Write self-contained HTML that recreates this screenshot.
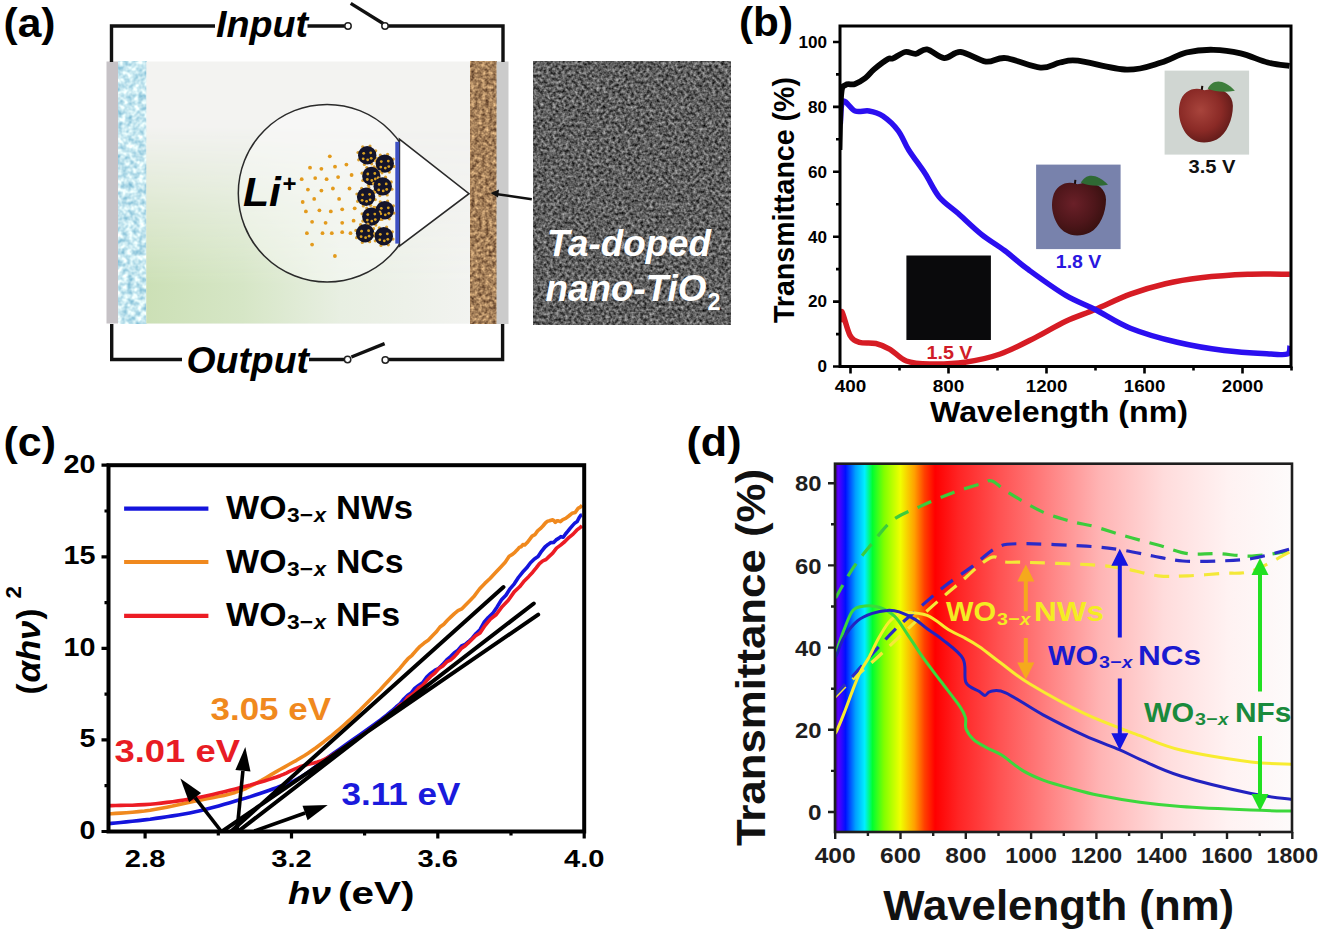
<!DOCTYPE html><html><head><meta charset="utf-8"><style>html,body{margin:0;padding:0;background:#fff;overflow:hidden}svg{display:block}</style></head><body>
<svg width="1328" height="938" viewBox="0 0 1328 938">
<defs>
<filter id="noise" x="0" y="0" width="100%" height="100%">
  <feTurbulence type="fractalNoise" baseFrequency="0.55" numOctaves="2" seed="3" result="n"/>
  <feColorMatrix in="n" type="matrix" values="0 0 0 0 0.42  0 0 0 0 0.42  0 0 0 0 0.42  0 0 0 1.6 -0.5" result="g"/>
  <feComposite in="g" in2="SourceGraphic" operator="in"/>
</filter>
<filter id="temn" x="0" y="0" width="100%" height="100%" color-interpolation-filters="sRGB">
  <feTurbulence type="fractalNoise" baseFrequency="0.32" numOctaves="2" seed="7"/>
  <feColorMatrix type="matrix" values="0.9 0 0 0 -0.08  0.9 0 0 0 -0.08  0.9 0 0 0 -0.08  0 0 0 0 1"/>
</filter>
<filter id="brn" x="0" y="0" width="100%" height="100%" color-interpolation-filters="sRGB">
  <feTurbulence type="fractalNoise" baseFrequency="0.28" numOctaves="2" seed="11"/>
  <feColorMatrix type="matrix" values="0.85 0 0 0 0.22  0.78 0 0 0 0.11  0.6 0 0 0 0.05  0 0 0 0 1"/>
</filter>
<filter id="wat" x="0" y="0" width="100%" height="100%" color-interpolation-filters="sRGB">
  <feTurbulence type="fractalNoise" baseFrequency="0.18" numOctaves="2" seed="5"/>
  <feColorMatrix type="matrix" values="0.75 0 0 0 0.4  0.45 0 0 0 0.68  0.28 0 0 0 0.8  0 0 0 0 1"/>
</filter>
<linearGradient id="cellh" x1="146" y1="0" x2="470" y2="0" gradientUnits="userSpaceOnUse">
  <stop offset="0" stop-color="#cce0b6"/>
  <stop offset="0.3" stop-color="#d6e6c6"/>
  <stop offset="0.6" stop-color="#e8efe2"/>
  <stop offset="1" stop-color="#f2f3f0"/>
</linearGradient>
<linearGradient id="cellv" x1="0" y1="61" x2="0" y2="324" gradientUnits="userSpaceOnUse">
  <stop offset="0" stop-color="#000"/>
  <stop offset="0.25" stop-color="#000"/>
  <stop offset="0.85" stop-color="#fff"/>
  <stop offset="1" stop-color="#fff"/>
</linearGradient>
<mask id="cellm" maskUnits="userSpaceOnUse" x="146" y="61" width="324" height="263"><rect x="146" y="61" width="324" height="263" fill="url(#cellv)"/></mask>
<linearGradient id="spec" x1="835" y1="0" x2="1292" y2="0" gradientUnits="userSpaceOnUse">
  <stop offset="0" stop-color="#3c0090"/>
  <stop offset="0.007" stop-color="#5a00ff"/>
  <stop offset="0.023" stop-color="#0010ff"/>
  <stop offset="0.045" stop-color="#00a0ff"/>
  <stop offset="0.065" stop-color="#00f0ff"/>
  <stop offset="0.082" stop-color="#00ff30"/>
  <stop offset="0.107" stop-color="#80ff00"/>
  <stop offset="0.143" stop-color="#f0ff00"/>
  <stop offset="0.174" stop-color="#ffa000"/>
  <stop offset="0.196" stop-color="#ff4000"/>
  <stop offset="0.219" stop-color="#ff0000"/>
  <stop offset="0.27" stop-color="#ff2424"/>
  <stop offset="0.36" stop-color="#ff5252"/>
  <stop offset="0.58" stop-color="#ffb4b4"/>
  <stop offset="0.72" stop-color="#ffdcdc"/>
  <stop offset="0.86" stop-color="#fff2f2"/>
  <stop offset="1" stop-color="#fdfbfb"/>
</linearGradient>
</defs>
<rect x="0" y="0" width="1328" height="938" fill="#fff"/>
<text x="3.5" y="36.5" font-family="Liberation Sans, sans-serif" font-size="40" font-weight="bold" font-style="normal" fill="#000" text-anchor="start" textLength="52" lengthAdjust="spacingAndGlyphs" >(a)</text>
<rect x="106.5" y="61.5" width="11.7" height="262" fill="#c6c2c6"/>
<rect x="118.2" y="61.5" width="28.1" height="262" filter="url(#wat)"/>
<rect x="146.3" y="61.5" width="323.7" height="262" fill="#f3f3f1"/>
<rect x="146.3" y="61.5" width="323.7" height="262" fill="url(#cellh)" mask="url(#cellm)"/>
<rect x="470" y="61.5" width="26.5" height="262.5" filter="url(#brn)"/>
<rect x="496.5" y="61.5" width="12" height="262.5" fill="#cbcbcb"/>
<path d="M111.5,62 V26 H215 M307.5,26 H345 M388,26 H503 V62" stroke="#111" stroke-width="3.4" fill="none"/>
<path d="M350.7,3.4 L383.5,23.7" stroke="#111" stroke-width="3.4" fill="none"/>
<path d="M111.7,324 V359.5 H182 M309,359.5 H344.5 M388.5,359.5 H502.6 V324" stroke="#111" stroke-width="3.4" fill="none"/>
<path d="M351.4,357 L384.6,343.6" stroke="#111" stroke-width="3.4" fill="none"/>
<circle cx="348" cy="26" r="3.2" fill="#fff" stroke="#222" stroke-width="1.5"/>
<circle cx="385" cy="26" r="3.2" fill="#fff" stroke="#222" stroke-width="1.5"/>
<circle cx="347.6" cy="359.5" r="3.2" fill="#fff" stroke="#222" stroke-width="1.5"/>
<circle cx="385.3" cy="360" r="3.2" fill="#fff" stroke="#222" stroke-width="1.5"/>
<text x="216" y="37.3" font-family="Liberation Sans, sans-serif" font-size="36" font-weight="bold" font-style="italic" fill="#000" text-anchor="start" textLength="92" lengthAdjust="spacingAndGlyphs" >Input</text>
<text x="186.5" y="373.4" font-family="Liberation Sans, sans-serif" font-size="36" font-weight="bold" font-style="italic" fill="#000" text-anchor="start" textLength="122.5" lengthAdjust="spacingAndGlyphs" >Output</text>
<circle cx="327.1" cy="193.2" r="88.8" fill="#fff" fill-opacity="0.35" stroke="#2a2a2a" stroke-width="1.5"/>
<path d="M399.4,139.2 L469,193.7 L399.4,246.2 Z" fill="#fff" stroke="#2a2a2a" stroke-width="1.6"/>
<rect x="395.3" y="141.8" width="4" height="101.8" fill="#3d50c3"/>
<circle cx="329.8" cy="156.3" r="1.9" fill="#e39a1c"/>
<circle cx="310" cy="167.7" r="1.9" fill="#e39a1c"/>
<circle cx="321.4" cy="168.8" r="1.9" fill="#e39a1c"/>
<circle cx="335" cy="166.7" r="1.9" fill="#e39a1c"/>
<circle cx="346.4" cy="164.6" r="1.9" fill="#e39a1c"/>
<circle cx="301.7" cy="179.2" r="1.9" fill="#e39a1c"/>
<circle cx="315.2" cy="178.1" r="1.9" fill="#e39a1c"/>
<circle cx="326.6" cy="179.2" r="1.9" fill="#e39a1c"/>
<circle cx="338.1" cy="177.1" r="1.9" fill="#e39a1c"/>
<circle cx="351.6" cy="175" r="1.9" fill="#e39a1c"/>
<circle cx="307.9" cy="189.6" r="1.9" fill="#e39a1c"/>
<circle cx="321.4" cy="190.6" r="1.9" fill="#e39a1c"/>
<circle cx="332.9" cy="188.5" r="1.9" fill="#e39a1c"/>
<circle cx="349.5" cy="188.5" r="1.9" fill="#e39a1c"/>
<circle cx="302.7" cy="202" r="1.9" fill="#e39a1c"/>
<circle cx="314.2" cy="198.9" r="1.9" fill="#e39a1c"/>
<circle cx="339.1" cy="198.9" r="1.9" fill="#e39a1c"/>
<circle cx="354.7" cy="208.3" r="1.9" fill="#e39a1c"/>
<circle cx="305.9" cy="211.4" r="1.9" fill="#e39a1c"/>
<circle cx="319.4" cy="210.3" r="1.9" fill="#e39a1c"/>
<circle cx="330.8" cy="211.4" r="1.9" fill="#e39a1c"/>
<circle cx="342.2" cy="209.3" r="1.9" fill="#e39a1c"/>
<circle cx="312.1" cy="221.8" r="1.9" fill="#e39a1c"/>
<circle cx="325.6" cy="222.8" r="1.9" fill="#e39a1c"/>
<circle cx="342.2" cy="222.8" r="1.9" fill="#e39a1c"/>
<circle cx="353.6" cy="220.7" r="1.9" fill="#e39a1c"/>
<circle cx="306.9" cy="233.2" r="1.9" fill="#e39a1c"/>
<circle cx="322.5" cy="233.2" r="1.9" fill="#e39a1c"/>
<circle cx="331.8" cy="233.2" r="1.9" fill="#e39a1c"/>
<circle cx="342.2" cy="232.2" r="1.9" fill="#e39a1c"/>
<circle cx="350.5" cy="233.2" r="1.9" fill="#e39a1c"/>
<circle cx="312.1" cy="244.6" r="1.9" fill="#e39a1c"/>
<circle cx="334.9" cy="256" r="1.9" fill="#e39a1c"/>
<circle cx="376.4" cy="158.1" r="1.6" fill="#d9a030"/><circle cx="371.7" cy="163.8" r="1.6" fill="#d9a030"/><circle cx="364.4" cy="164.5" r="1.6" fill="#d9a030"/><circle cx="358.7" cy="159.8" r="1.6" fill="#d9a030"/><circle cx="358.0" cy="152.5" r="1.6" fill="#d9a030"/><circle cx="362.7" cy="146.8" r="1.6" fill="#d9a030"/><circle cx="370.0" cy="146.1" r="1.6" fill="#d9a030"/><circle cx="375.7" cy="150.8" r="1.6" fill="#d9a030"/>
<circle cx="367.2" cy="155.3" r="9.2" fill="#14142a"/>
<circle cx="363.7" cy="153.3" r="1.4" fill="#d8a020"/>
<circle cx="370.7" cy="152.8" r="1.4" fill="#d8a020"/>
<circle cx="367.7" cy="159.8" r="1.4" fill="#d8a020"/>
<circle cx="363.2" cy="158.8" r="1.4" fill="#d8a020"/>
<circle cx="371.2" cy="158.3" r="1.4" fill="#d8a020"/>
<circle cx="394.0" cy="166.4" r="1.6" fill="#d9a030"/><circle cx="389.3" cy="172.1" r="1.6" fill="#d9a030"/><circle cx="382.0" cy="172.8" r="1.6" fill="#d9a030"/><circle cx="376.3" cy="168.1" r="1.6" fill="#d9a030"/><circle cx="375.6" cy="160.8" r="1.6" fill="#d9a030"/><circle cx="380.3" cy="155.1" r="1.6" fill="#d9a030"/><circle cx="387.6" cy="154.4" r="1.6" fill="#d9a030"/><circle cx="393.3" cy="159.1" r="1.6" fill="#d9a030"/>
<circle cx="384.8" cy="163.6" r="9.2" fill="#14142a"/>
<circle cx="381.3" cy="161.6" r="1.4" fill="#d8a020"/>
<circle cx="388.3" cy="161.1" r="1.4" fill="#d8a020"/>
<circle cx="385.3" cy="168.1" r="1.4" fill="#d8a020"/>
<circle cx="380.8" cy="167.1" r="1.4" fill="#d8a020"/>
<circle cx="388.8" cy="166.6" r="1.4" fill="#d8a020"/>
<circle cx="380.5" cy="178.8" r="1.6" fill="#d9a030"/><circle cx="375.8" cy="184.5" r="1.6" fill="#d9a030"/><circle cx="368.5" cy="185.2" r="1.6" fill="#d9a030"/><circle cx="362.8" cy="180.5" r="1.6" fill="#d9a030"/><circle cx="362.1" cy="173.2" r="1.6" fill="#d9a030"/><circle cx="366.8" cy="167.5" r="1.6" fill="#d9a030"/><circle cx="374.1" cy="166.8" r="1.6" fill="#d9a030"/><circle cx="379.8" cy="171.5" r="1.6" fill="#d9a030"/>
<circle cx="371.3" cy="176" r="9.2" fill="#14142a"/>
<circle cx="367.8" cy="174" r="1.4" fill="#d8a020"/>
<circle cx="374.8" cy="173.5" r="1.4" fill="#d8a020"/>
<circle cx="371.8" cy="180.5" r="1.4" fill="#d8a020"/>
<circle cx="367.3" cy="179.5" r="1.4" fill="#d8a020"/>
<circle cx="375.3" cy="179" r="1.4" fill="#d8a020"/>
<circle cx="391.9" cy="189.2" r="1.6" fill="#d9a030"/><circle cx="387.2" cy="194.9" r="1.6" fill="#d9a030"/><circle cx="379.9" cy="195.6" r="1.6" fill="#d9a030"/><circle cx="374.2" cy="190.9" r="1.6" fill="#d9a030"/><circle cx="373.5" cy="183.6" r="1.6" fill="#d9a030"/><circle cx="378.2" cy="177.9" r="1.6" fill="#d9a030"/><circle cx="385.5" cy="177.2" r="1.6" fill="#d9a030"/><circle cx="391.2" cy="181.9" r="1.6" fill="#d9a030"/>
<circle cx="382.7" cy="186.4" r="9.2" fill="#14142a"/>
<circle cx="379.2" cy="184.4" r="1.4" fill="#d8a020"/>
<circle cx="386.2" cy="183.9" r="1.4" fill="#d8a020"/>
<circle cx="383.2" cy="190.9" r="1.4" fill="#d8a020"/>
<circle cx="378.7" cy="189.9" r="1.4" fill="#d8a020"/>
<circle cx="386.7" cy="189.4" r="1.4" fill="#d8a020"/>
<circle cx="375.3" cy="199.6" r="1.6" fill="#d9a030"/><circle cx="370.6" cy="205.3" r="1.6" fill="#d9a030"/><circle cx="363.3" cy="206.0" r="1.6" fill="#d9a030"/><circle cx="357.6" cy="201.3" r="1.6" fill="#d9a030"/><circle cx="356.9" cy="194.0" r="1.6" fill="#d9a030"/><circle cx="361.6" cy="188.3" r="1.6" fill="#d9a030"/><circle cx="368.9" cy="187.6" r="1.6" fill="#d9a030"/><circle cx="374.6" cy="192.3" r="1.6" fill="#d9a030"/>
<circle cx="366.1" cy="196.8" r="9.2" fill="#14142a"/>
<circle cx="362.6" cy="194.8" r="1.4" fill="#d8a020"/>
<circle cx="369.6" cy="194.3" r="1.4" fill="#d8a020"/>
<circle cx="366.6" cy="201.3" r="1.4" fill="#d8a020"/>
<circle cx="362.1" cy="200.3" r="1.4" fill="#d8a020"/>
<circle cx="370.1" cy="199.8" r="1.4" fill="#d8a020"/>
<circle cx="394.0" cy="213.1" r="1.6" fill="#d9a030"/><circle cx="389.3" cy="218.8" r="1.6" fill="#d9a030"/><circle cx="382.0" cy="219.5" r="1.6" fill="#d9a030"/><circle cx="376.3" cy="214.8" r="1.6" fill="#d9a030"/><circle cx="375.6" cy="207.5" r="1.6" fill="#d9a030"/><circle cx="380.3" cy="201.8" r="1.6" fill="#d9a030"/><circle cx="387.6" cy="201.1" r="1.6" fill="#d9a030"/><circle cx="393.3" cy="205.8" r="1.6" fill="#d9a030"/>
<circle cx="384.8" cy="210.3" r="9.2" fill="#14142a"/>
<circle cx="381.3" cy="208.3" r="1.4" fill="#d8a020"/>
<circle cx="388.3" cy="207.8" r="1.4" fill="#d8a020"/>
<circle cx="385.3" cy="214.8" r="1.4" fill="#d8a020"/>
<circle cx="380.8" cy="213.8" r="1.4" fill="#d8a020"/>
<circle cx="388.8" cy="213.3" r="1.4" fill="#d8a020"/>
<circle cx="380.5" cy="219.4" r="1.6" fill="#d9a030"/><circle cx="375.8" cy="225.1" r="1.6" fill="#d9a030"/><circle cx="368.5" cy="225.8" r="1.6" fill="#d9a030"/><circle cx="362.8" cy="221.1" r="1.6" fill="#d9a030"/><circle cx="362.1" cy="213.8" r="1.6" fill="#d9a030"/><circle cx="366.8" cy="208.1" r="1.6" fill="#d9a030"/><circle cx="374.1" cy="207.4" r="1.6" fill="#d9a030"/><circle cx="379.8" cy="212.1" r="1.6" fill="#d9a030"/>
<circle cx="371.3" cy="216.6" r="9.2" fill="#14142a"/>
<circle cx="367.8" cy="214.6" r="1.4" fill="#d8a020"/>
<circle cx="374.8" cy="214.1" r="1.4" fill="#d8a020"/>
<circle cx="371.8" cy="221.1" r="1.4" fill="#d8a020"/>
<circle cx="367.3" cy="220.1" r="1.4" fill="#d8a020"/>
<circle cx="375.3" cy="219.6" r="1.4" fill="#d8a020"/>
<circle cx="374.3" cy="236.0" r="1.6" fill="#d9a030"/><circle cx="369.6" cy="241.7" r="1.6" fill="#d9a030"/><circle cx="362.3" cy="242.4" r="1.6" fill="#d9a030"/><circle cx="356.6" cy="237.7" r="1.6" fill="#d9a030"/><circle cx="355.9" cy="230.4" r="1.6" fill="#d9a030"/><circle cx="360.6" cy="224.7" r="1.6" fill="#d9a030"/><circle cx="367.9" cy="224.0" r="1.6" fill="#d9a030"/><circle cx="373.6" cy="228.7" r="1.6" fill="#d9a030"/>
<circle cx="365.1" cy="233.2" r="9.2" fill="#14142a"/>
<circle cx="361.6" cy="231.2" r="1.4" fill="#d8a020"/>
<circle cx="368.6" cy="230.7" r="1.4" fill="#d8a020"/>
<circle cx="365.6" cy="237.7" r="1.4" fill="#d8a020"/>
<circle cx="361.1" cy="236.7" r="1.4" fill="#d8a020"/>
<circle cx="369.1" cy="236.2" r="1.4" fill="#d8a020"/>
<circle cx="393.0" cy="239.1" r="1.6" fill="#d9a030"/><circle cx="388.3" cy="244.8" r="1.6" fill="#d9a030"/><circle cx="381.0" cy="245.5" r="1.6" fill="#d9a030"/><circle cx="375.3" cy="240.8" r="1.6" fill="#d9a030"/><circle cx="374.6" cy="233.5" r="1.6" fill="#d9a030"/><circle cx="379.3" cy="227.8" r="1.6" fill="#d9a030"/><circle cx="386.6" cy="227.1" r="1.6" fill="#d9a030"/><circle cx="392.3" cy="231.8" r="1.6" fill="#d9a030"/>
<circle cx="383.8" cy="236.3" r="9.2" fill="#14142a"/>
<circle cx="380.3" cy="234.3" r="1.4" fill="#d8a020"/>
<circle cx="387.3" cy="233.8" r="1.4" fill="#d8a020"/>
<circle cx="384.3" cy="240.8" r="1.4" fill="#d8a020"/>
<circle cx="379.8" cy="239.8" r="1.4" fill="#d8a020"/>
<circle cx="387.8" cy="239.3" r="1.4" fill="#d8a020"/>
<text x="243" y="206.2" font-family="Liberation Sans, sans-serif" font-size="40" font-weight="bold" font-style="italic" fill="#000" text-anchor="start" textLength="38" lengthAdjust="spacingAndGlyphs" >Li</text>
<text x="282.5" y="192" font-family="Liberation Sans, sans-serif" font-size="24" font-weight="bold" font-style="normal" fill="#000" text-anchor="start" textLength="14" lengthAdjust="spacingAndGlyphs" >+</text>
<path d="M494,193.7 L531.8,199.2" stroke="#111" stroke-width="2.6"/>
<path d="M490.5,193 L499,189.5 L498,197.5 Z" fill="#111"/>
<rect x="533" y="61.7" width="197.3" height="262.9" filter="url(#temn)"/>
<text x="547" y="256.1" font-family="Liberation Sans, sans-serif" font-size="36" font-weight="bold" font-style="italic" fill="#fff" text-anchor="start" textLength="164" lengthAdjust="spacingAndGlyphs" >Ta-doped</text>
<text x="545.5" y="301.3" font-family="Liberation Sans, sans-serif" font-size="36" font-weight="bold" font-style="italic" fill="#fff" text-anchor="start" textLength="161" lengthAdjust="spacingAndGlyphs" >nano-TiO</text>
<text x="707.5" y="310.4" font-family="Liberation Sans, sans-serif" font-size="24" font-weight="bold" font-style="normal" fill="#fff" text-anchor="start" textLength="13" lengthAdjust="spacingAndGlyphs" >2</text>
<text x="739" y="36" font-family="Liberation Sans, sans-serif" font-size="40" font-weight="bold" font-style="normal" fill="#000" text-anchor="start" textLength="54" lengthAdjust="spacingAndGlyphs" >(b)</text>
<clipPath id="clipb"><rect x="840" y="26" width="451" height="340.5"/></clipPath>
<g clip-path="url(#clipb)">
<path d="M840.2,322.0 C840.5,320.3 840.4,309.6 842.0,311.8 C843.6,314.0 847.1,330.2 850.0,335.3 C852.9,340.4 855.2,340.9 859.5,342.3 C863.8,343.7 870.8,342.3 875.9,343.5 C881.0,344.7 884.9,346.4 890.0,349.3 C895.1,352.2 899.8,358.6 906.4,361.0 C913.0,363.4 920.0,363.7 929.8,363.9 C939.6,364.1 953.3,363.8 965.0,362.2 C976.7,360.6 988.5,358.1 1000.2,354.0 C1011.9,349.9 1024.4,343.1 1035.3,337.6 C1046.2,332.1 1055.8,325.9 1065.8,321.2 C1075.8,316.5 1084.4,314.0 1095.2,309.5 C1106.0,305.0 1118.7,298.5 1130.4,294.2 C1142.1,289.9 1153.8,286.4 1165.5,283.7 C1177.2,281.0 1187.0,279.4 1200.7,277.8 C1214.4,276.2 1232.8,274.9 1247.6,274.3 C1262.4,273.7 1282.8,274.3 1289.8,274.3" fill="none" stroke="#d61c24" stroke-width="5.5" stroke-linejoin="round"/>
<path d="M840.3,124.0 C840.8,120.2 840.5,103.6 843.0,101.4 C845.5,99.2 850.7,109.4 855.0,111.0 C859.3,112.6 864.4,110.2 869.0,111.0 C873.6,111.8 877.9,112.7 882.8,116.0 C887.7,119.3 894.0,125.1 898.3,130.8 C902.6,136.5 904.2,142.9 908.7,150.0 C913.2,157.1 920.0,165.7 925.1,173.5 C930.2,181.3 933.7,190.3 939.2,196.9 C944.7,203.5 951.0,207.1 958.0,213.3 C965.0,219.6 973.6,228.2 981.4,234.4 C989.2,240.7 997.1,244.9 1004.9,250.8 C1012.7,256.7 1018.1,262.2 1028.3,269.6 C1038.5,277.0 1054.6,288.8 1065.8,295.4 C1077.0,302.0 1084.4,304.0 1095.2,309.5 C1106.0,315.0 1116.7,322.7 1130.4,328.2 C1144.1,333.7 1161.7,338.6 1177.3,342.3 C1192.9,346.0 1208.6,348.6 1224.2,350.5 C1239.8,352.4 1260.5,353.4 1271.0,354.0 C1281.5,354.6 1284.3,355.3 1287.5,354.0 C1290.7,352.7 1289.6,347.3 1290.0,346.0" fill="none" stroke="#2b0ff0" stroke-width="5.5" stroke-linejoin="round"/>
<path d="M839.5,150.0 C839.8,140.8 840.2,105.3 841.2,94.5 C842.2,83.7 843.2,86.8 845.5,85.0 C847.8,83.2 851.7,85.2 855.0,84.0 C858.3,82.8 862.2,80.4 865.4,78.0 C868.6,75.6 870.2,72.6 874.0,69.4 C877.8,66.2 884.8,60.8 888.0,59.0 C891.2,57.2 890.1,59.6 893.0,58.4 C895.9,57.2 901.5,52.8 905.3,52.0 C909.1,51.2 912.1,54.2 915.7,53.8 C919.3,53.4 922.2,48.7 927.0,49.4 C931.8,50.1 938.6,57.7 944.2,58.1 C949.8,58.5 953.8,51.4 960.7,52.0 C967.6,52.6 978.3,60.6 985.8,61.6 C993.3,62.6 996.6,57.1 1005.7,58.1 C1014.8,59.1 1031.4,66.9 1040.4,67.6 C1049.5,68.3 1053.7,63.6 1060.0,62.5 C1066.3,61.4 1066.8,59.5 1078.0,60.7 C1089.2,61.9 1113.0,69.4 1126.9,69.7 C1140.8,70.0 1151.3,65.4 1161.2,62.5 C1171.1,59.6 1177.8,54.6 1186.5,52.5 C1195.2,50.4 1204.6,49.6 1213.6,49.8 C1222.6,49.9 1231.7,51.3 1240.7,53.4 C1249.7,55.5 1259.7,60.4 1267.8,62.5 C1275.9,64.6 1285.9,65.4 1289.5,66.0" fill="none" stroke="#050505" stroke-width="5.8" stroke-linejoin="round"/>
</g>
<rect x="906.4" y="255.5" width="84.5" height="84.5" fill="#0a0a0c"/>
<text x="926.5" y="358.7" font-family="Liberation Sans, sans-serif" font-size="18" font-weight="bold" font-style="normal" fill="#d01c28" text-anchor="start" textLength="46" lengthAdjust="spacingAndGlyphs" >1.5 V</text>
<rect x="1036.1" y="164.6" width="84.5" height="84.5" fill="#7882ac"/>
<text x="1055.8" y="267.8" font-family="Liberation Sans, sans-serif" font-size="18" font-weight="bold" font-style="normal" fill="#2a16e0" text-anchor="start" textLength="45.5" lengthAdjust="spacingAndGlyphs" >1.8 V</text>
<rect x="1164.6" y="70.6" width="84.5" height="84" fill="#d0d6d2"/>
<text x="1188.5" y="172.6" font-family="Liberation Sans, sans-serif" font-size="18" font-weight="bold" font-style="normal" fill="#111" text-anchor="start" textLength="47" lengthAdjust="spacingAndGlyphs" >3.5 V</text>
<radialGradient id="ap1" cx="0.4" cy="0.4" r="0.65"><stop offset="0" stop-color="#a8443c"/><stop offset="0.6" stop-color="#8a2a26"/><stop offset="1" stop-color="#5e1a18"/></radialGradient>
<path d="M1202.8,89.8 C1194.8,86.8 1182.7,89.8 1179.7,103.7 C1176.7,117.6 1182.7,133.5 1192.8,139.5 C1198.8,143.5 1208.8,143.5 1216.8,139.5 C1226.9,133.5 1232.9,119.6 1232.9,105.7 C1232.9,93.8 1220.9,86.8 1210.8,88.8 C1206.8,89.8 1204.8,90.8 1202.8,89.8 Z" fill="url(#ap1)"/>
<path d="M1207.8,88.8 C1211.8,79.8 1222.9,77.9 1234.9,90.8 C1224.9,92.8 1214.8,91.8 1207.8,88.8 Z" fill="#3e7e3c"/>
<path d="M1201.8,89.8 L1202.3,85.8" stroke="#1a0a08" stroke-width="2"/>
<radialGradient id="ap2" cx="0.4" cy="0.4" r="0.65"><stop offset="0" stop-color="#6a2028"/><stop offset="0.6" stop-color="#4e161a"/><stop offset="1" stop-color="#36100f"/></radialGradient>
<path d="M1075.9,183.8 C1067.9,180.8 1055.8,183.8 1052.8,197.4 C1049.8,211.1 1055.8,226.7 1065.9,232.6 C1071.9,236.5 1081.9,236.5 1089.9,232.6 C1100.0,226.7 1106.0,213.0 1106.0,199.4 C1106.0,187.7 1094.0,180.8 1083.9,182.8 C1079.9,183.8 1077.9,184.7 1075.9,183.8 Z" fill="url(#ap2)"/>
<path d="M1080.9,182.8 C1084.9,174.0 1096.0,172.0 1108.0,184.7 C1098.0,186.7 1087.9,185.7 1080.9,182.8 Z" fill="#2f6a34"/>
<path d="M1074.9,183.8 L1075.4,179.8" stroke="#1a0a08" stroke-width="2"/>
<rect x="840" y="26" width="451" height="340.5" fill="none" stroke="#000" stroke-width="3"/>
<path d="M840,366.5 H833 M840,334.1 H836 M840,301.6 H833 M840,269.1 H836 M840,236.7 H833 M840,204.2 H836 M840,171.8 H833 M840,139.3 H836 M840,106.9 H833 M840,74.4 H836 M840,42.0 H833 M850.5,366.5 V373.5 M899.5,366.5 V370.5 M948.5,366.5 V373.5 M997.5,366.5 V370.5 M1046.5,366.5 V373.5 M1095.5,366.5 V370.5 M1144.5,366.5 V373.5 M1193.5,366.5 V370.5 M1242.5,366.5 V373.5 M1291.5,366.5 V370.5 " stroke="#000" stroke-width="2.6"/>
<text x="827" y="372.3" font-family="Liberation Sans, sans-serif" font-size="16" font-weight="bold" font-style="normal" fill="#000" text-anchor="end" textLength="9.5" lengthAdjust="spacingAndGlyphs" >0</text>
<text x="827" y="307.4" font-family="Liberation Sans, sans-serif" font-size="16" font-weight="bold" font-style="normal" fill="#000" text-anchor="end" textLength="19" lengthAdjust="spacingAndGlyphs" >20</text>
<text x="827" y="242.5" font-family="Liberation Sans, sans-serif" font-size="16" font-weight="bold" font-style="normal" fill="#000" text-anchor="end" textLength="19" lengthAdjust="spacingAndGlyphs" >40</text>
<text x="827" y="177.6" font-family="Liberation Sans, sans-serif" font-size="16" font-weight="bold" font-style="normal" fill="#000" text-anchor="end" textLength="19" lengthAdjust="spacingAndGlyphs" >60</text>
<text x="827" y="112.7" font-family="Liberation Sans, sans-serif" font-size="16" font-weight="bold" font-style="normal" fill="#000" text-anchor="end" textLength="19" lengthAdjust="spacingAndGlyphs" >80</text>
<text x="827" y="47.8" font-family="Liberation Sans, sans-serif" font-size="16" font-weight="bold" font-style="normal" fill="#000" text-anchor="end" textLength="28.5" lengthAdjust="spacingAndGlyphs" >100</text>
<text x="850.5" y="391.5" font-family="Liberation Sans, sans-serif" font-size="16" font-weight="bold" font-style="normal" fill="#000" text-anchor="middle" textLength="31.5" lengthAdjust="spacingAndGlyphs" >400</text>
<text x="948.5" y="391.5" font-family="Liberation Sans, sans-serif" font-size="16" font-weight="bold" font-style="normal" fill="#000" text-anchor="middle" textLength="31.5" lengthAdjust="spacingAndGlyphs" >800</text>
<text x="1046.5" y="391.5" font-family="Liberation Sans, sans-serif" font-size="16" font-weight="bold" font-style="normal" fill="#000" text-anchor="middle" textLength="41.5" lengthAdjust="spacingAndGlyphs" >1200</text>
<text x="1144.5" y="391.5" font-family="Liberation Sans, sans-serif" font-size="16" font-weight="bold" font-style="normal" fill="#000" text-anchor="middle" textLength="41.5" lengthAdjust="spacingAndGlyphs" >1600</text>
<text x="1242.5" y="391.5" font-family="Liberation Sans, sans-serif" font-size="16" font-weight="bold" font-style="normal" fill="#000" text-anchor="middle" textLength="41.5" lengthAdjust="spacingAndGlyphs" >2000</text>
<text x="930" y="421.5" font-family="Liberation Sans, sans-serif" font-size="30" font-weight="bold" font-style="normal" fill="#000" text-anchor="start" textLength="258" lengthAdjust="spacingAndGlyphs" >Wavelength (nm)</text>
<g transform="translate(793.5,323) rotate(-90)">
<text x="0" y="0" font-family="Liberation Sans, sans-serif" font-size="29" font-weight="bold" font-style="normal" fill="#000" text-anchor="start" textLength="246" lengthAdjust="spacingAndGlyphs" >Transmittance (%)</text>
</g>
<text x="3.5" y="456" font-family="Liberation Sans, sans-serif" font-size="40" font-weight="bold" font-style="normal" fill="#000" text-anchor="start" textLength="52.5" lengthAdjust="spacingAndGlyphs" >(c)</text>
<clipPath id="clipc"><rect x="108.5" y="465.2" width="475.7" height="366.3"/></clipPath>
<g clip-path="url(#clipc)">
<path d="M108.0,814.0 L111.2,813.7 L115.5,813.4 L120.6,813.1 L126.3,812.7 L132.3,812.2 L138.4,811.6 L144.5,811.0 L150.2,810.2 L155.7,809.3 L161.3,808.3 L166.9,807.2 L172.6,806.1 L178.3,804.8 L184.0,803.6 L189.7,802.3 L195.4,801.1 L201.1,799.9 L206.8,798.8 L212.6,797.7 L218.4,796.6 L224.1,795.4 L229.7,794.0 L235.2,792.4 L240.6,790.6 L245.9,788.5 L251.0,786.0 L256.1,783.4 L261.1,780.6 L266.0,777.7 L270.8,774.9 L275.5,772.1 L280.0,769.5 L284.4,767.1 L288.5,764.8 L292.5,762.5 L296.5,760.3 L300.3,758.0 L304.2,755.7 L308.1,753.2 L312.0,750.5 L316.0,747.7 L320.0,744.7 L324.0,741.7 L328.0,738.5 L332.0,735.3 L336.0,731.9 L340.0,728.5 L344.0,725.0 L348.0,721.4 L352.0,717.7 L356.0,713.9 L360.0,710.1 L364.0,706.1 L368.0,702.1 L372.0,698.1 L376.0,694.0 L380.0,689.9 L384.0,685.6 L388.0,681.3 L392.0,676.9 L396.0,672.5 L400.0,668.2 L404.0,663.3 L408.0,658.7 L412.0,655.3 L416.1,650.6 L420.1,646.3 L424.1,643.1 L428.2,640.3 L432.2,636.1 L436.1,632.1 L440.0,627.0 L443.8,624.2 L447.4,620.3 L450.9,616.9 L454.4,613.6 L458.0,610.6 L461.7,608.9 L465.6,604.9 L469.8,600.7 L474.4,595.9 L479.5,589.0 L484.8,583.4 L490.3,578.2 L495.6,572.5 L500.6,567.3 L505.2,562.3 L509.2,556.3 L512.4,554.4 L515.1,552.1 L517.3,549.8 L519.3,547.4 L521.1,546.8 L522.9,544.5 L524.8,544.9 L527.0,542.8 L529.5,539.6 L532.1,536.2 L534.9,534.7 L537.6,530.9 L540.3,528.7 L542.9,526.0 L545.4,523.0 L547.6,521.2 L549.5,520.8 L551.1,520.2 L552.6,519.8 L553.9,520.6 L555.3,522.4 L556.8,520.9 L558.4,520.9 L560.4,521.7 L562.8,519.6 L565.7,518.4 L568.8,516.0 L572.0,513.3 L575.2,512.5 L578.0,508.4 L580.4,507.1 L582.1,505.3" fill="none" stroke="#f0891e" stroke-width="3.6" stroke-linejoin="round"/>
<path d="M108.0,823.7 L111.2,823.4 L115.5,823.0 L120.6,822.5 L126.3,821.9 L132.3,821.3 L138.4,820.6 L144.5,819.9 L150.2,819.2 L155.7,818.4 L161.3,817.6 L166.9,816.8 L172.6,815.9 L178.3,815.0 L184.0,814.0 L189.7,812.9 L195.4,811.7 L201.1,810.4 L206.9,809.0 L212.7,807.5 L218.6,805.9 L224.3,804.3 L229.9,802.7 L235.4,801.1 L240.6,799.6 L245.6,798.1 L250.5,796.6 L255.3,795.0 L260.0,793.5 L264.4,792.0 L268.7,790.5 L272.8,789.0 L276.7,787.6 L280.2,786.3 L283.4,785.2 L286.2,784.1 L289.0,783.0 L291.7,781.9 L294.5,780.5 L297.5,778.9 L300.8,777.0 L304.3,774.8 L307.8,772.4 L311.5,769.8 L315.2,767.0 L319.2,764.0 L323.5,760.7 L328.2,757.2 L333.3,753.5 L339.1,749.4 L345.7,744.7 L352.7,739.8 L360.0,734.7 L367.3,729.5 L374.3,724.4 L380.8,719.6 L386.6,715.1 L391.6,711.0 L396.1,707.0 L400.2,703.6 L403.9,699.0 L407.5,695.6 L411.1,693.1 L414.7,688.4 L418.6,685.5 L422.6,682.7 L426.7,677.1 L430.7,673.4 L434.8,670.4 L438.8,668.3 L442.8,664.4 L446.7,659.9 L450.6,656.6 L454.4,652.7 L458.0,650.2 L461.6,645.9 L465.2,644.3 L468.7,641.5 L472.4,638.0 L476.1,633.5 L480.0,629.7 L484.1,622.3 L488.3,617.5 L492.7,613.4 L497.1,606.9 L501.5,599.8 L505.9,595.2 L510.2,588.6 L514.3,583.8 L518.4,577.5 L522.5,572.3 L526.5,568.1 L530.5,562.7 L534.4,559.0 L538.1,556.5 L541.7,551.1 L545.0,547.0 L548.1,544.4 L550.9,542.6 L553.6,542.5 L556.1,539.9 L558.6,538.4 L560.9,536.6 L563.2,537.3 L565.5,534.0 L567.9,531.2 L570.3,528.2 L572.7,525.4 L575.0,522.9 L577.2,521.5 L579.1,517.7 L580.8,515.3 L582.0,515.0" fill="none" stroke="#1414dc" stroke-width="3.6" stroke-linejoin="round"/>
<path d="M108.0,805.7 L111.2,805.6 L115.5,805.5 L120.6,805.4 L126.3,805.3 L132.3,805.2 L138.4,804.9 L144.5,804.6 L150.2,804.2 L155.7,803.7 L161.3,803.1 L166.9,802.4 L172.6,801.7 L178.3,800.9 L184.0,800.0 L189.7,799.1 L195.4,798.1 L201.1,797.0 L206.9,795.8 L212.7,794.5 L218.6,793.1 L224.3,791.7 L229.9,790.3 L235.4,788.9 L240.6,787.6 L245.6,786.3 L250.5,785.0 L255.3,783.6 L260.0,782.3 L264.4,781.0 L268.7,779.6 L272.8,778.3 L276.7,777.0 L280.2,775.7 L283.4,774.4 L286.3,773.1 L289.1,771.7 L291.8,770.4 L294.6,769.1 L297.6,767.8 L300.8,766.5 L304.1,765.4 L307.3,764.5 L310.6,763.8 L313.9,763.0 L317.5,762.0 L321.5,760.6 L326.0,758.7 L331.0,756.0 L336.9,752.4 L343.7,748.0 L351.0,743.0 L358.7,737.7 L366.4,732.1 L373.8,726.7 L380.6,721.6 L386.6,717.0 L391.7,712.9 L396.3,709.0 L400.3,704.7 L404.1,703.2 L407.6,697.5 L411.2,695.1 L414.8,692.3 L418.6,687.8 L422.6,685.6 L426.7,680.6 L430.7,676.4 L434.8,673.1 L438.8,668.5 L442.8,665.9 L446.7,661.9 L450.6,660.0 L454.3,656.6 L457.8,652.7 L461.2,648.6 L464.5,646.3 L468.0,643.2 L471.6,639.7 L475.6,635.8 L480.0,633.0 L485.0,625.6 L490.4,619.1 L496.3,614.5 L502.3,606.4 L508.3,600.3 L514.2,591.9 L519.6,586.8 L524.5,580.7 L528.8,576.4 L532.7,572.2 L536.2,567.9 L539.5,563.6 L542.8,560.8 L546.0,559.5 L549.2,556.4 L552.7,553.2 L556.5,548.1 L560.6,545.1 L564.9,541.5 L569.1,537.3 L573.1,534.1 L576.7,530.2 L579.7,527.8 L582.0,525.8" fill="none" stroke="#ec1c24" stroke-width="3.6" stroke-linejoin="round"/>
<path d="M231,831.5 L503.5,587 M238,831.5 L533.8,603.5 M222,831.5 L538.2,614.6" stroke="#000" stroke-width="4" stroke-linecap="round"/>
</g>
<path d="M221.0,831.0 L195.1,797.6" stroke="#000" stroke-width="3.6"/>
<path d="M180.4,778.6 L201.1,792.9 L189.1,802.2 Z" fill="#000"/>
<path d="M237.0,831.0 L242.9,770.9" stroke="#000" stroke-width="3.6"/>
<path d="M245.3,747.0 L250.5,771.6 L235.4,770.1 Z" fill="#000"/>
<path d="M254.3,831.0 L305.1,813.0" stroke="#000" stroke-width="3.6"/>
<path d="M327.7,805.0 L307.6,820.2 L302.5,805.8 Z" fill="#000"/>
<path d="M124.1,508.6 H208.4" stroke="#1414dc" stroke-width="4.2"/>
<text x="226" y="519.1" font-family="Liberation Sans, sans-serif" font-size="33" font-weight="bold" font-style="normal" fill="#000" text-anchor="start" textLength="60.5" lengthAdjust="spacingAndGlyphs" >WO</text>
<text x="287" y="522.1" font-family="Liberation Sans, sans-serif" font-size="20.5" font-weight="bold" font-style="normal" fill="#000" text-anchor="start" textLength="26" lengthAdjust="spacingAndGlyphs" >3−</text>
<text x="314" y="522.1" font-family="Liberation Sans, sans-serif" font-size="20.5" font-weight="bold" font-style="italic" fill="#000" text-anchor="start" textLength="12" lengthAdjust="spacingAndGlyphs" >x</text>
<text x="336" y="519.1" font-family="Liberation Sans, sans-serif" font-size="33" font-weight="bold" font-style="normal" fill="#000" text-anchor="start" textLength="77" lengthAdjust="spacingAndGlyphs" >NWs</text>
<path d="M124.1,562 H208.4" stroke="#f0891e" stroke-width="4.2"/>
<text x="226" y="572.5" font-family="Liberation Sans, sans-serif" font-size="33" font-weight="bold" font-style="normal" fill="#000" text-anchor="start" textLength="60.5" lengthAdjust="spacingAndGlyphs" >WO</text>
<text x="287" y="575.5" font-family="Liberation Sans, sans-serif" font-size="20.5" font-weight="bold" font-style="normal" fill="#000" text-anchor="start" textLength="26" lengthAdjust="spacingAndGlyphs" >3−</text>
<text x="314" y="575.5" font-family="Liberation Sans, sans-serif" font-size="20.5" font-weight="bold" font-style="italic" fill="#000" text-anchor="start" textLength="12" lengthAdjust="spacingAndGlyphs" >x</text>
<text x="336" y="572.5" font-family="Liberation Sans, sans-serif" font-size="33" font-weight="bold" font-style="normal" fill="#000" text-anchor="start" textLength="67.5" lengthAdjust="spacingAndGlyphs" >NCs</text>
<path d="M124.1,615.8 H208.4" stroke="#ec1c24" stroke-width="4.2"/>
<text x="226" y="626.3" font-family="Liberation Sans, sans-serif" font-size="33" font-weight="bold" font-style="normal" fill="#000" text-anchor="start" textLength="60.5" lengthAdjust="spacingAndGlyphs" >WO</text>
<text x="287" y="629.3" font-family="Liberation Sans, sans-serif" font-size="20.5" font-weight="bold" font-style="normal" fill="#000" text-anchor="start" textLength="26" lengthAdjust="spacingAndGlyphs" >3−</text>
<text x="314" y="629.3" font-family="Liberation Sans, sans-serif" font-size="20.5" font-weight="bold" font-style="italic" fill="#000" text-anchor="start" textLength="12" lengthAdjust="spacingAndGlyphs" >x</text>
<text x="336" y="626.3" font-family="Liberation Sans, sans-serif" font-size="33" font-weight="bold" font-style="normal" fill="#000" text-anchor="start" textLength="64" lengthAdjust="spacingAndGlyphs" >NFs</text>
<text x="114.5" y="762" font-family="Liberation Sans, sans-serif" font-size="31.5" font-weight="bold" font-style="normal" fill="#e81c24" text-anchor="start" textLength="125.5" lengthAdjust="spacingAndGlyphs" >3.01 eV</text>
<text x="210.5" y="719.8" font-family="Liberation Sans, sans-serif" font-size="31.5" font-weight="bold" font-style="normal" fill="#f0891e" text-anchor="start" textLength="120.5" lengthAdjust="spacingAndGlyphs" >3.05 eV</text>
<text x="341.5" y="805" font-family="Liberation Sans, sans-serif" font-size="31.5" font-weight="bold" font-style="normal" fill="#1a1adc" text-anchor="start" textLength="119" lengthAdjust="spacingAndGlyphs" >3.11 eV</text>
<rect x="108.5" y="465.2" width="475.7" height="366.3" fill="none" stroke="#000" stroke-width="4"/>
<path d="M108.5,831.5 H101.5 M108.5,785.7 H104.5 M108.5,739.9 H101.5 M108.5,694.1 H104.5 M108.5,648.4 H101.5 M108.5,602.6 H104.5 M108.5,556.8 H101.5 M108.5,511.0 H104.5 M108.5,465.2 H101.5 M145.1,831.5 V838.5 M218.3,831.5 V835.5 M291.5,831.5 V838.5 M364.6,831.5 V835.5 M437.8,831.5 V838.5 M511.0,831.5 V835.5 M584.2,831.5 V838.5 " stroke="#000" stroke-width="3.2"/>
<text x="95.5" y="839.0" font-family="Liberation Sans, sans-serif" font-size="25" font-weight="bold" font-style="normal" fill="#000" text-anchor="end" textLength="16" lengthAdjust="spacingAndGlyphs" >0</text>
<text x="95.5" y="747.4" font-family="Liberation Sans, sans-serif" font-size="25" font-weight="bold" font-style="normal" fill="#000" text-anchor="end" textLength="16" lengthAdjust="spacingAndGlyphs" >5</text>
<text x="95.5" y="655.9" font-family="Liberation Sans, sans-serif" font-size="25" font-weight="bold" font-style="normal" fill="#000" text-anchor="end" textLength="32" lengthAdjust="spacingAndGlyphs" >10</text>
<text x="95.5" y="564.3" font-family="Liberation Sans, sans-serif" font-size="25" font-weight="bold" font-style="normal" fill="#000" text-anchor="end" textLength="32" lengthAdjust="spacingAndGlyphs" >15</text>
<text x="95.5" y="472.7" font-family="Liberation Sans, sans-serif" font-size="25" font-weight="bold" font-style="normal" fill="#000" text-anchor="end" textLength="32" lengthAdjust="spacingAndGlyphs" >20</text>
<text x="145.1" y="866.5" font-family="Liberation Sans, sans-serif" font-size="24" font-weight="bold" font-style="normal" fill="#000" text-anchor="middle" textLength="40.5" lengthAdjust="spacingAndGlyphs" >2.8</text>
<text x="291.5" y="866.5" font-family="Liberation Sans, sans-serif" font-size="24" font-weight="bold" font-style="normal" fill="#000" text-anchor="middle" textLength="40.5" lengthAdjust="spacingAndGlyphs" >3.2</text>
<text x="437.8" y="866.5" font-family="Liberation Sans, sans-serif" font-size="24" font-weight="bold" font-style="normal" fill="#000" text-anchor="middle" textLength="40.5" lengthAdjust="spacingAndGlyphs" >3.6</text>
<text x="584.2" y="866.5" font-family="Liberation Sans, sans-serif" font-size="24" font-weight="bold" font-style="normal" fill="#000" text-anchor="middle" textLength="40.5" lengthAdjust="spacingAndGlyphs" >4.0</text>
<text x="288" y="904" font-family="Liberation Sans, sans-serif" font-size="32" font-weight="bold" font-style="italic" fill="#000" text-anchor="start" textLength="43" lengthAdjust="spacingAndGlyphs" >hν</text>
<text x="338" y="904" font-family="Liberation Sans, sans-serif" font-size="32" font-weight="bold" font-style="normal" fill="#000" text-anchor="start" textLength="76.5" lengthAdjust="spacingAndGlyphs" >(eV)</text>
<g transform="translate(39.6,694.6) rotate(-90)">
<text x="0" y="0" font-family="Liberation Sans, sans-serif" font-size="33" font-weight="bold" font-style="normal" fill="#000" text-anchor="start" textLength="11" lengthAdjust="spacingAndGlyphs" >(</text>
<text x="12" y="0" font-family="Liberation Sans, sans-serif" font-size="33" font-weight="bold" font-style="italic" fill="#000" text-anchor="start" textLength="62" lengthAdjust="spacingAndGlyphs" >αhν</text>
<text x="75" y="0" font-family="Liberation Sans, sans-serif" font-size="33" font-weight="bold" font-style="normal" fill="#000" text-anchor="start" textLength="11" lengthAdjust="spacingAndGlyphs" >)</text>
<text x="96" y="-19" font-family="Liberation Sans, sans-serif" font-size="22" font-weight="bold" font-style="normal" fill="#000" text-anchor="start" textLength="12.5" lengthAdjust="spacingAndGlyphs" >2</text>
</g>
<text x="686.5" y="455.5" font-family="Liberation Sans, sans-serif" font-size="40" font-weight="bold" font-style="normal" fill="#000" text-anchor="start" textLength="55" lengthAdjust="spacingAndGlyphs" >(d)</text>
<rect x="835" y="463.7" width="457" height="368.3" fill="url(#spec)"/>
<clipPath id="clipd"><rect x="835" y="463.7" width="457" height="368.3"/></clipPath>
<g clip-path="url(#clipd)" fill="none" stroke-linejoin="round">
<path d="M835.5,598.0 C838.5,592.9 847.4,576.5 853.5,567.4 C859.6,558.3 865.8,551.1 872.3,543.2 C878.8,535.3 884.6,526.4 892.7,520.2 C900.8,514.0 910.9,510.7 920.9,506.1 C930.9,501.5 942.9,496.4 952.9,492.7 C962.9,489.0 974.6,485.6 981.1,483.7 C987.6,481.8 987.6,479.6 992.0,481.0 C996.4,482.4 999.1,486.8 1007.4,491.9 C1015.7,497.0 1031.3,506.7 1042.0,511.6 C1052.7,516.5 1063.0,519.0 1071.6,521.5 C1080.2,524.0 1084.7,523.9 1093.8,526.4 C1102.9,528.9 1115.3,533.2 1126.0,536.3 C1136.7,539.4 1147.7,542.1 1158.0,545.0 C1168.3,547.9 1177.8,552.2 1187.7,553.6 C1197.6,555.0 1206.6,553.2 1217.3,553.6 C1228.0,554.0 1239.7,556.4 1252.0,556.0 C1264.3,555.6 1284.8,551.8 1291.4,551.0" stroke="#3ccc3c" stroke-width="3.2" stroke-dasharray="15 10"/>
<path d="M835.0,697.0 C838.0,694.0 845.4,686.1 852.9,679.1 C860.4,672.1 867.2,666.8 879.8,655.2 C892.4,643.6 915.8,621.1 928.7,609.4 C941.6,597.7 947.0,593.6 957.2,585.0 C967.4,576.4 982.0,561.8 990.0,558.0 C998.0,554.2 999.2,561.3 1005.0,562.0 C1010.8,562.7 1010.7,561.8 1024.7,562.3 C1038.7,562.8 1072.4,563.7 1088.9,564.7 C1105.4,565.7 1112.0,566.5 1123.5,568.4 C1135.0,570.2 1147.3,574.6 1158.0,575.8 C1168.7,577.0 1177.0,576.2 1187.7,575.8 C1198.4,575.4 1211.6,574.2 1222.3,573.4 C1233.0,572.6 1240.5,574.6 1252.0,570.9 C1263.5,567.2 1284.8,554.3 1291.4,551.0" stroke="#f4e838" stroke-width="3.2" stroke-dasharray="15 10"/>
<path d="M835.0,695.0 C837.7,692.1 844.9,684.7 851.4,677.6 C857.9,670.5 866.1,660.7 873.8,652.2 C881.5,643.8 889.6,634.8 897.7,626.9 C905.9,619.0 914.8,611.8 922.7,604.9 C930.6,598.0 937.2,592.0 945.2,585.8 C953.2,579.5 962.5,573.7 971.0,567.4 C979.5,561.1 988.3,551.8 996.4,547.8 C1004.5,543.8 1004.8,544.0 1019.8,543.7 C1034.8,543.4 1069.5,545.2 1086.4,546.2 C1103.3,547.2 1109.9,548.3 1121.0,549.9 C1132.1,551.5 1142.7,554.1 1153.0,556.0 C1163.3,557.9 1172.1,560.2 1182.8,561.0 C1193.5,561.8 1205.8,561.4 1217.3,561.0 C1228.8,560.6 1239.7,560.5 1252.0,558.5 C1264.3,556.5 1284.8,550.3 1291.4,548.7" stroke="#2a2ac8" stroke-width="3.2" stroke-dasharray="15 10"/>
<path d="M834.5,734.0 C834.8,733.5 834.9,734.7 836.5,731.3 C838.1,727.9 841.3,720.3 844.0,713.4 C846.7,706.5 850.2,696.6 852.9,689.6 C855.6,682.6 857.7,677.1 860.4,671.6 C863.1,666.1 866.3,662.2 869.3,656.7 C872.3,651.2 875.1,644.5 878.3,638.8 C881.5,633.1 885.5,626.4 888.7,622.4 C891.9,618.4 895.0,616.6 897.7,614.9 C900.4,613.2 899.9,612.3 904.8,612.4 C909.7,612.5 919.7,612.4 927.2,615.4 C934.7,618.4 943.4,626.6 949.6,630.3 C955.8,634.0 959.5,635.1 964.5,637.8 C969.5,640.5 973.4,642.6 979.4,646.7 C985.4,650.8 991.8,656.3 1000.2,662.5 C1008.6,668.7 1015.9,675.5 1030.0,684.0 C1044.1,692.5 1066.4,705.0 1084.7,713.6 C1103.0,722.2 1124.0,729.6 1140.0,735.7 C1156.0,741.8 1162.2,745.6 1180.7,750.0 C1199.2,754.4 1232.5,759.5 1251.0,761.9 C1269.5,764.3 1285.2,763.8 1292.0,764.2" stroke="#f8ec30" stroke-width="3"/>
<path d="M834.5,654.0 C834.8,653.5 834.9,654.7 836.5,650.7 C838.1,646.7 841.3,636.6 844.0,629.9 C846.7,623.2 849.4,614.4 852.9,610.4 C856.4,606.4 860.4,606.5 864.9,606.0 C869.4,605.5 874.8,605.8 879.8,607.5 C884.8,609.2 890.0,611.9 894.7,616.4 C899.4,620.9 903.1,628.0 907.8,634.8 C912.5,641.6 917.2,649.5 922.7,657.2 C928.2,664.9 934.4,672.8 940.6,681.0 C946.8,689.2 955.9,700.5 960.0,706.6 C964.1,712.7 964.5,714.0 965.5,717.7 C966.5,721.4 964.6,725.1 966.0,728.8 C967.4,732.5 970.3,736.7 973.9,739.9 C977.5,743.1 983.1,745.7 987.7,748.2 C992.3,750.7 995.8,751.4 1001.6,755.1 C1007.4,758.8 1015.5,766.2 1022.4,770.4 C1029.3,774.6 1035.0,777.1 1043.1,780.1 C1051.2,783.1 1061.5,785.9 1070.8,788.4 C1080.0,790.9 1087.1,793.0 1098.6,795.3 C1110.1,797.6 1126.3,800.4 1140.0,802.2 C1153.7,804.1 1162.2,805.1 1180.7,806.4 C1199.2,807.7 1232.5,809.2 1251.0,810.0 C1269.5,810.8 1285.2,810.9 1292.0,811.1" stroke="#3cd83c" stroke-width="3"/>
<path d="M834.5,658.0 C834.8,657.5 834.9,658.7 836.5,655.2 C838.1,651.8 840.5,643.0 844.0,637.3 C847.5,631.6 852.7,624.9 857.4,620.9 C862.1,616.9 867.3,615.1 872.3,613.4 C877.3,611.6 882.7,610.6 887.2,610.4 C891.7,610.1 894.6,610.4 899.2,611.9 C903.8,613.4 910.3,616.6 915.0,619.4 C919.7,622.2 922.7,625.5 927.2,628.8 C931.7,632.1 936.1,634.3 942.1,639.3 C948.1,644.3 959.0,651.5 963.0,658.7 C967.0,665.9 963.3,677.0 966.0,682.5 C968.7,688.0 976.2,689.3 979.4,691.5 C982.6,693.7 983.1,695.5 985.0,695.5 C986.9,695.5 987.0,691.9 990.5,691.4 C994.0,690.9 996.9,688.9 1005.7,692.8 C1014.5,696.7 1029.9,707.8 1043.1,714.9 C1056.3,722.0 1072.0,729.9 1084.7,735.7 C1097.4,741.5 1110.1,745.7 1119.3,749.6 C1128.5,753.5 1129.8,754.9 1140.0,759.3 C1150.2,763.7 1162.2,770.3 1180.7,776.0 C1199.2,781.7 1232.5,789.6 1251.0,793.5 C1269.5,797.4 1285.2,798.4 1292.0,799.4" stroke="#2222c0" stroke-width="3"/>
</g>
<path d="M1025.8,580.5 V611.3 M1025.8,638 V663.6" stroke="#f5a91c" stroke-width="4"/>
<path d="M1025.8,564.5 L1017.3,581.5 L1034.3,581.5 Z M1025.8,679.6 L1017.3,662.6 L1034.3,662.6 Z" fill="#f5a91c"/>
<path d="M1119.8,564.7 V637.6 M1119.8,678.6 V734.2" stroke="#1515e0" stroke-width="4"/>
<path d="M1119.8,548.7 L1111.3,565.7 L1128.3,565.7 Z M1119.8,750.2 L1111.3,733.2 L1128.3,733.2 Z" fill="#1515e0"/>
<path d="M1260,574 V691.5 M1260,736 V795" stroke="#22e022" stroke-width="4"/>
<path d="M1260,558 L1251.5,575 L1268.5,575 Z M1260,811 L1251.5,794 L1268.5,794 Z" fill="#22e022"/>
<text x="946" y="621" font-family="Liberation Sans, sans-serif" font-size="28" font-weight="bold" font-style="normal" fill="#f4ec22" text-anchor="start" textLength="50" lengthAdjust="spacingAndGlyphs" >WO</text>
<text x="997" y="624.5" font-family="Liberation Sans, sans-serif" font-size="17.36" font-weight="bold" font-style="normal" fill="#f4ec22" text-anchor="start" textLength="22.400000000000002" lengthAdjust="spacingAndGlyphs" >3−</text>
<text x="1019.96" y="624.5" font-family="Liberation Sans, sans-serif" font-size="17.36" font-weight="bold" font-style="italic" fill="#f4ec22" text-anchor="start" textLength="10.36" lengthAdjust="spacingAndGlyphs" >x</text>
<text x="1034" y="621" font-family="Liberation Sans, sans-serif" font-size="28" font-weight="bold" font-style="normal" fill="#f4ec22" text-anchor="start" textLength="70" lengthAdjust="spacingAndGlyphs" >NWs</text>
<text x="1048" y="664.5" font-family="Liberation Sans, sans-serif" font-size="28" font-weight="bold" font-style="normal" fill="#1a1ad0" text-anchor="start" textLength="50" lengthAdjust="spacingAndGlyphs" >WO</text>
<text x="1099" y="668.0" font-family="Liberation Sans, sans-serif" font-size="17.36" font-weight="bold" font-style="normal" fill="#1a1ad0" text-anchor="start" textLength="22.400000000000002" lengthAdjust="spacingAndGlyphs" >3−</text>
<text x="1121.96" y="668.0" font-family="Liberation Sans, sans-serif" font-size="17.36" font-weight="bold" font-style="italic" fill="#1a1ad0" text-anchor="start" textLength="10.36" lengthAdjust="spacingAndGlyphs" >x</text>
<text x="1138" y="664.5" font-family="Liberation Sans, sans-serif" font-size="28" font-weight="bold" font-style="normal" fill="#1a1ad0" text-anchor="start" textLength="63" lengthAdjust="spacingAndGlyphs" >NCs</text>
<text x="1144" y="721.5" font-family="Liberation Sans, sans-serif" font-size="28" font-weight="bold" font-style="normal" fill="#1a8a3c" text-anchor="start" textLength="50" lengthAdjust="spacingAndGlyphs" >WO</text>
<text x="1195" y="725.0" font-family="Liberation Sans, sans-serif" font-size="17.36" font-weight="bold" font-style="normal" fill="#1a8a3c" text-anchor="start" textLength="22.400000000000002" lengthAdjust="spacingAndGlyphs" >3−</text>
<text x="1217.96" y="725.0" font-family="Liberation Sans, sans-serif" font-size="17.36" font-weight="bold" font-style="italic" fill="#1a8a3c" text-anchor="start" textLength="10.36" lengthAdjust="spacingAndGlyphs" >x</text>
<text x="1235" y="721.5" font-family="Liberation Sans, sans-serif" font-size="28" font-weight="bold" font-style="normal" fill="#1a8a3c" text-anchor="start" textLength="56.5" lengthAdjust="spacingAndGlyphs" >NFs</text>
<rect x="835" y="463.7" width="457" height="368.3" fill="none" stroke="#1e1e1e" stroke-width="2.6"/>
<path d="M835,812.0 H828 M835,770.9 H831 M835,729.8 H828 M835,688.7 H831 M835,647.6 H828 M835,606.5 H831 M835,565.4 H828 M835,524.3 H831 M835,483.2 H828 M835.2,832 V839 M867.9,832 V836 M900.5,832 V839 M933.2,832 V836 M965.8,832 V839 M998.5,832 V836 M1031.1,832 V839 M1063.8,832 V836 M1096.4,832 V839 M1129.1,832 V836 M1161.7,832 V839 M1194.4,832 V836 M1227.0,832 V839 M1259.7,832 V836 M1292.3,832 V839 " stroke="#1e1e1e" stroke-width="2.4"/>
<text x="821.5" y="820.2" font-family="Liberation Sans, sans-serif" font-size="22.5" font-weight="bold" font-style="normal" fill="#1e1e1e" text-anchor="end" textLength="13.5" lengthAdjust="spacingAndGlyphs" >0</text>
<text x="821.5" y="738.0" font-family="Liberation Sans, sans-serif" font-size="22.5" font-weight="bold" font-style="normal" fill="#1e1e1e" text-anchor="end" textLength="26.5" lengthAdjust="spacingAndGlyphs" >20</text>
<text x="821.5" y="655.8" font-family="Liberation Sans, sans-serif" font-size="22.5" font-weight="bold" font-style="normal" fill="#1e1e1e" text-anchor="end" textLength="26.5" lengthAdjust="spacingAndGlyphs" >40</text>
<text x="821.5" y="573.6" font-family="Liberation Sans, sans-serif" font-size="22.5" font-weight="bold" font-style="normal" fill="#1e1e1e" text-anchor="end" textLength="26.5" lengthAdjust="spacingAndGlyphs" >60</text>
<text x="821.5" y="491.4" font-family="Liberation Sans, sans-serif" font-size="22.5" font-weight="bold" font-style="normal" fill="#1e1e1e" text-anchor="end" textLength="26.5" lengthAdjust="spacingAndGlyphs" >80</text>
<text x="835.2" y="862.8" font-family="Liberation Sans, sans-serif" font-size="22.5" font-weight="bold" font-style="normal" fill="#1e1e1e" text-anchor="middle" textLength="41" lengthAdjust="spacingAndGlyphs" >400</text>
<text x="900.5" y="862.8" font-family="Liberation Sans, sans-serif" font-size="22.5" font-weight="bold" font-style="normal" fill="#1e1e1e" text-anchor="middle" textLength="41" lengthAdjust="spacingAndGlyphs" >600</text>
<text x="965.8" y="862.8" font-family="Liberation Sans, sans-serif" font-size="22.5" font-weight="bold" font-style="normal" fill="#1e1e1e" text-anchor="middle" textLength="41" lengthAdjust="spacingAndGlyphs" >800</text>
<text x="1031.1" y="862.8" font-family="Liberation Sans, sans-serif" font-size="22.5" font-weight="bold" font-style="normal" fill="#1e1e1e" text-anchor="middle" textLength="51.5" lengthAdjust="spacingAndGlyphs" >1000</text>
<text x="1096.4" y="862.8" font-family="Liberation Sans, sans-serif" font-size="22.5" font-weight="bold" font-style="normal" fill="#1e1e1e" text-anchor="middle" textLength="51.5" lengthAdjust="spacingAndGlyphs" >1200</text>
<text x="1161.7" y="862.8" font-family="Liberation Sans, sans-serif" font-size="22.5" font-weight="bold" font-style="normal" fill="#1e1e1e" text-anchor="middle" textLength="51.5" lengthAdjust="spacingAndGlyphs" >1400</text>
<text x="1227.0" y="862.8" font-family="Liberation Sans, sans-serif" font-size="22.5" font-weight="bold" font-style="normal" fill="#1e1e1e" text-anchor="middle" textLength="51.5" lengthAdjust="spacingAndGlyphs" >1600</text>
<text x="1292.3" y="862.8" font-family="Liberation Sans, sans-serif" font-size="22.5" font-weight="bold" font-style="normal" fill="#1e1e1e" text-anchor="middle" textLength="51.5" lengthAdjust="spacingAndGlyphs" >1800</text>
<text x="883.2" y="919.5" font-family="Liberation Sans, sans-serif" font-size="42" font-weight="bold" font-style="normal" fill="#111" text-anchor="start" textLength="351" lengthAdjust="spacingAndGlyphs" >Wavelength (nm)</text>
<g transform="translate(765,846) rotate(-90)">
<text x="0" y="0" font-family="Liberation Sans, sans-serif" font-size="40" font-weight="bold" font-style="normal" fill="#111" text-anchor="start" textLength="377" lengthAdjust="spacingAndGlyphs" >Transmittance (%)</text>
</g>
</svg></body></html>
